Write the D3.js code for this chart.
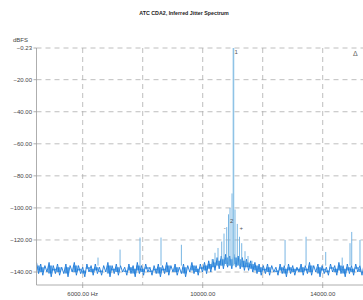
<!DOCTYPE html>
<html>
<head>
<meta charset="utf-8">
<script src="https://cdn.jsdelivr.net/npm/d3@7"></script>
<style>
  body { margin: 0; background: #fff; }
</style>
</head>
<body>
<div id="chart"></div>
<script>
// Axis ticks
var yTicks = [-0.23, -20, -40, -60, -80, -100, -120, -140];
var xGrid = [6000, 8000, 10000, 12000, 14000];
var xLabels = [
  {f: 6000, text: "6000.00 Hz"},
  {f: 10000, text: "10000.00"},
  {f: 14000, text: "14000.00"}
];

// noise floor, read every 70 Hz starting at 4460 Hz (alternating peaks / dips)
var floorStart = 4460, floorStep = 70;
var floorDb = [
  -134,-141,-135,-142,-136,-140,-134,-143,-136,-141,-135,-142,-137,-141,-135,-143,-136,-140,-134,-142,
  -136,-141,-137,-143,-135,-140,-136,-142,-135,-141,-137,-142,-136,-140,-134,-143,-136,-141,-135,-142,
  -136,-140,-137,-142,-135,-141,-136,-143,-134,-141,-136,-142,-135,-140,-137,-142,-136,-141,-135,-143,
  -136,-141,-134,-142,-136,-140,-135,-142,-137,-141,-135,-143,-136,-140,-134,-141,-136,-142,-135,-140,
  -134,-141,-133,-140,-132,-139,-131,-138,-130,-138,-129,-137,-130,-138,-129,-137,-130,-138,-131,-139,
  -132,-139,-133,-140,-134,-141,-135,-142,-136,-141,-135,-142,-136,-140,-137,-142,-135,-141,-136,-143,
  -135,-141,-136,-142,-137,-140,-135,-142,-136,-141,-134,-142,-136,-140,-135,-143,-136,-141,-137,-142,
  -135,-140,-136,-142,-134,-141,-136,-143,-135,-141,-136,-142,-135,-140,-136,-142,-135
];

// discrete spectral lines (Hz, dBFS)
var spikeFreq = [6510, 7245, 7910, 8610, 9290,
  10313, 10410, 10510, 10633, 10710, 10800, 10860, 10910, 10977,
  11077, 11153, 11227, 11300, 11410, 11510, 11643,
  12745, 13445, 14100, 14650, 14910, 14967, 15243];
var spikeDb = [-131, -126, -118.5, -118.5, -123,
  -132, -128, -125, -121, -116, -112, -104, -100, -91,
  -101, -110, -118, -122, -127, -130, -133,
  -120, -118, -127.5, -131, -122, -115, -120];
var toneFreq = 11025, toneDb = -0.23;

var W = 363, H = 300;
var svg = d3.select("#chart").append("svg")
  .attr("width", W).attr("height", H)
  .style("font-family", "Liberation Sans, Arial, sans-serif");

var x = d3.scaleLinear().domain([4460, 15343]).range([36.5, 363]);
var y = d3.scaleLinear().domain([-148.1, -0.23]).range([285, 48]);

// title
svg.append("text")
  .attr("x", 184).attr("y", 15)
  .attr("text-anchor", "middle")
  .attr("font-weight", "bold")
  .attr("font-size", "5.3px")
  .attr("fill", "#222")
  .text("ATC CDA2, Inferred Jitter Spectrum");

svg.append("text")
  .attr("x", 13).attr("y", 42)
  .attr("font-size", "6px").attr("fill", "#444")
  .text("dBFS");

// grid
var grid = svg.append("g").attr("stroke", "#adadad").attr("stroke-dasharray", "5,4").attr("stroke-width", 0.8);
grid.selectAll("line.h").data(yTicks).enter().append("line")
  .attr("x1", 36.5).attr("x2", W)
  .attr("y1", function(d) { return y(d); }).attr("y2", function(d) { return y(d); });
grid.selectAll("line.v").data(xGrid).enter().append("line")
  .attr("y1", 48).attr("y2", 285)
  .attr("x1", function(d) { return x(d); }).attr("x2", function(d) { return x(d); });

svg.append("clipPath").attr("id", "plotclip")
  .append("rect").attr("x", 36.5).attr("y", 40).attr("width", W).attr("height", 245);

var plot = svg.append("g").attr("clip-path", "url(#plotclip)");

// noise band: pair each peak with the following dip
var pairs = d3.range(0, floorDb.length - 1, 2).map(function(i) {
  return {f: floorStart + (i + 0.5) * floorStep, hi: floorDb[i], lo: floorDb[i + 1]};
});
var band = d3.area()
  .x(function(d) { return x(d.f); })
  .y0(function(d) { return y(d.lo + 2); })
  .y1(function(d) { return y(d.hi - 2); })
  .curve(d3.curveStep);
plot.append("path")
  .datum(pairs)
  .attr("d", band)
  .attr("fill", "#3a8fe0")
  .attr("opacity", 0.85);

var floorLine = d3.line()
  .x(function(d, i) { return x(floorStart + i * floorStep); })
  .y(function(d) { return y(d); });
plot.append("path")
  .datum(floorDb)
  .attr("d", floorLine)
  .attr("fill", "none")
  .attr("stroke", "#1a78d8")
  .attr("stroke-width", 0.9);

// spectral lines
plot.selectAll("line.spike").data(spikeFreq).enter().append("line")
  .attr("x1", function(d) { return x(d); }).attr("x2", function(d) { return x(d); })
  .attr("y1", y(-136))
  .attr("y2", function(d, i) { return y(spikeDb[i]); })
  .attr("stroke", "#6aaee0")
  .attr("stroke-width", 0.9);

plot.append("line")
  .attr("x1", x(toneFreq)).attr("x2", x(toneFreq))
  .attr("y1", y(-136)).attr("y2", y(toneDb))
  .attr("stroke", "#8fc3e6")
  .attr("stroke-width", 1.6);

// axes lines + ticks
svg.append("line").attr("x1", 36.5).attr("x2", 36.5).attr("y1", 48).attr("y2", 285)
  .attr("stroke", "#999").attr("stroke-width", 0.8);
svg.append("line").attr("x1", 36.5).attr("x2", W).attr("y1", 285).attr("y2", 285)
  .attr("stroke", "#999").attr("stroke-width", 0.8);

svg.selectAll("line.ytick").data(yTicks).enter().append("line")
  .attr("x1", 33.5).attr("x2", 36.5)
  .attr("y1", function(d) { return y(d); }).attr("y2", function(d) { return y(d); })
  .attr("stroke", "#999").attr("stroke-width", 0.8);

svg.selectAll("text.ylab").data(yTicks).enter().append("text")
  .attr("x", 32).attr("y", function(d) { return y(d) + 2; })
  .attr("text-anchor", "end")
  .attr("font-size", "6px").attr("fill", "#444")
  .text(function(d) { return d3.format(".2f")(d); });

svg.selectAll("line.xtick").data(xLabels).enter().append("line")
  .attr("x1", function(d) { return x(d.f); }).attr("x2", function(d) { return x(d.f); })
  .attr("y1", 285).attr("y2", 288)
  .attr("stroke", "#999").attr("stroke-width", 0.8);

svg.selectAll("text.xlab").data(xLabels).enter().append("text")
  .attr("x", function(d) { return x(d.f); }).attr("y", 296)
  .attr("text-anchor", "middle")
  .attr("font-size", "6px").attr("fill", "#444")
  .text(function(d) { return d.text; });

// cursor markers
svg.append("text").attr("x", x(toneFreq) + 1).attr("y", 54)
  .attr("font-size", "6px").attr("fill", "#555").text("1");
svg.append("text").attr("x", x(10977) - 2).attr("y", 223)
  .attr("font-size", "6px").attr("fill", "#555").text("2");
svg.append("text").attr("x", x(10700)).attr("y", 230)
  .attr("font-size", "6px").attr("fill", "#555").text("-");
svg.append("text").attr("x", x(11227)).attr("y", 230)
  .attr("font-size", "6px").attr("fill", "#555").text("+");
svg.append("text").attr("x", 353).attr("y", 56)
  .attr("font-size", "7px").attr("fill", "#666").text("\u0394");
</script>
</body>
</html>
